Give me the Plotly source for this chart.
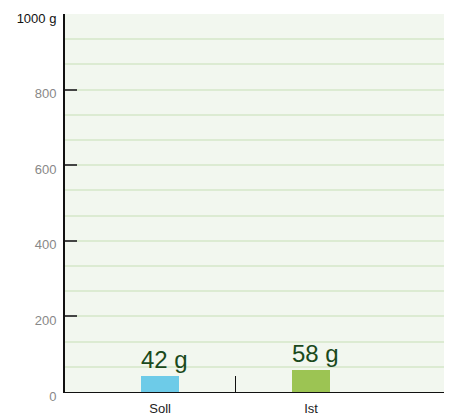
import plotly.graph_objects as go

categories = ["Soll", "Ist"]
values = [42, 58]
bar_colors = ["#6dcbe8", "#9cc453"]
value_labels = [f"{v} g" for v in values]
y_ticks = [0, 200, 400, 600, 800, 1000]
y_ticktext = ["0", "200", "400", "600", "800", "<span style='color:#111111'>1000 g</span>"]

bar_width = 0.25
x_pos = list(range(len(categories)))

fig = go.Figure(
    go.Bar(
        x=x_pos,
        y=values,
        width=bar_width,
        marker=dict(color=bar_colors, line=dict(width=0)),
        cliponaxis=False,
    )
)

# value labels, left-aligned with each bar's left edge
for xp, v, lbl in zip(x_pos, values, value_labels):
    fig.add_annotation(
        x=xp - bar_width / 2,
        y=v,
        text=lbl,
        showarrow=False,
        xanchor="left",
        yanchor="bottom",
        xshift=-2,
        yshift=1,
        font=dict(size=24, color="#1a4a1c", family="Liberation Sans, Arial, sans-serif"),
    )

fig.update_layout(
    width=449,
    height=415,
    margin=dict(l=65, r=5, t=14, b=23, autoexpand=False),
    paper_bgcolor="white",
    plot_bgcolor="#f2f7ef",
    showlegend=False,
    font=dict(family="Liberation Sans, Arial, sans-serif", size=13, color="#222222"),
    bargap=0,
)

fig.update_xaxes(
    range=[-0.63, 1.88],
    tickmode="array",
    tickvals=x_pos,
    ticktext=categories,
    ticks="",
    ticklabelstandoff=4,
    automargin=False,
    showgrid=False,
    zeroline=False,
    showline=True,
    linecolor="#111111",
    linewidth=1,
    tickfont=dict(size=13, color="#222222"),
    minor=dict(tickmode="array", tickvals=[0.5], ticks="inside", ticklen=16,
               tickcolor="#111111", tickwidth=1, showgrid=False),
)

fig.update_yaxes(
    range=[0, 1000],
    tickmode="array",
    tickvals=y_ticks,
    ticktext=y_ticktext,
    ticks="inside",
    ticklen=12,
    tickcolor="#444444",
    tickwidth=2,
    ticklabelshift=4,
    ticklabelstandoff=4,
    automargin=False,
    tickfont=dict(size=13, color="#888888"),
    showline=True,
    linecolor="#111111",
    linewidth=2,
    showgrid=True,
    gridcolor="#dcebd2",
    gridwidth=2,
    zeroline=False,
    minor=dict(tick0=0, dtick=200 / 3, showgrid=True, gridcolor="#dcebd2", gridwidth=2, ticks=""),
)

fig.write_html("out.html")
